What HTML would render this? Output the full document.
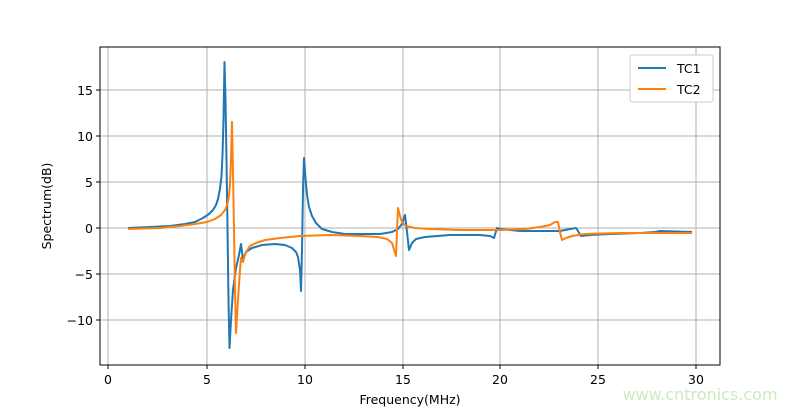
<!DOCTYPE html>
<html><head><meta charset="utf-8"><style>
body{margin:0;background:#fff}
svg text{font-family:"DejaVu Sans","Liberation Sans",sans-serif;font-size:12.5px;fill:#000}
</style></head><body>
<svg width="800" height="409" xmlns="http://www.w3.org/2000/svg">
<rect width="800" height="409" fill="#fff"/>
<g stroke="#b0b0b0" stroke-width="1">
<line x1="108" y1="47" x2="108" y2="365"/><line x1="207" y1="47" x2="207" y2="365"/>
<line x1="305" y1="47" x2="305" y2="365"/><line x1="403" y1="47" x2="403" y2="365"/>
<line x1="500" y1="47" x2="500" y2="365"/><line x1="598" y1="47" x2="598" y2="365"/>
<line x1="696" y1="47" x2="696" y2="365"/>
<line x1="100" y1="90" x2="720" y2="90"/><line x1="100" y1="136" x2="720" y2="136"/>
<line x1="100" y1="182" x2="720" y2="182"/><line x1="100" y1="228" x2="720" y2="228"/>
<line x1="100" y1="274" x2="720" y2="274"/><line x1="100" y1="320" x2="720" y2="320"/>
</g>
<polyline fill="none" stroke="#1f77b4" stroke-width="2" stroke-linejoin="round" points="128,228 150,227 170,226 185,224 195,222 203,218 209,214 213,210 216,205 218,199 220,189 221.5,176 222.5,155 223.5,120 224.5,62 225.5,100 226.5,160 227.5,228 228.5,300 229.5,348 231,320 233,290 236,268 239,255 241,244 243,260 246,252 252,248 262,245 275,244 285,245 292,248 296,252 298,257 300,270 301,291 302,250 303,190 304,158 305.5,178 307,195 309,207 312,216 316,223 322,229 332,232 345,234 360,234 380,234 392,232 398,229 402,224 405,215 407,232 409,250 412,243 416,239 425,237 450,235 480,235 490,236 494,238 497,228 500,229 520,231 560,231 570,229 576,228 578,231 581,236 590,235 610,234 640,233 655,232 660,231 692,232"/>
<polyline fill="none" stroke="#ff7f0e" stroke-width="2" stroke-linejoin="round" points="128,229 160,228 180,226 195,224 207,222 215,219 221,215 225,210 227.5,204 229,196 230,184 231,160 232,122 233.5,200 235,290 236,333 238,300 240,270 241,258 243,262 245,254 250,246 256,243 265,240 280,238 300,236 330,235 360,236 378,237 387,239 392,243 396,256 397,230 398,208 400,216 402,222 406,226 415,228 430,229 460,230 500,230 525,229 540,227 550,225 555,222 558,222 560,232 562,240 566,238 572,236 585,234 620,233 692,233"/>
<rect x="100" y="47" width="620" height="318" fill="none" stroke="#000" stroke-width="1"/>
<g stroke="#000"><line x1="108" y1="365" x2="108" y2="369"/><line x1="207" y1="365" x2="207" y2="369"/><line x1="305" y1="365" x2="305" y2="369"/><line x1="403" y1="365" x2="403" y2="369"/><line x1="500" y1="365" x2="500" y2="369"/><line x1="598" y1="365" x2="598" y2="369"/><line x1="696" y1="365" x2="696" y2="369"/>
<line x1="96" y1="90" x2="100" y2="90"/><line x1="96" y1="136" x2="100" y2="136"/><line x1="96" y1="182" x2="100" y2="182"/><line x1="96" y1="228" x2="100" y2="228"/><line x1="96" y1="274" x2="100" y2="274"/><line x1="96" y1="320" x2="100" y2="320"/></g>
<g text-anchor="middle"><text x="108" y="384">0</text><text x="207" y="384">5</text><text x="305" y="384">10</text><text x="403" y="384">15</text><text x="500" y="384">20</text><text x="598" y="384">25</text><text x="696" y="384">30</text>
<text x="410" y="404">Frequency(MHz)</text></g>
<g text-anchor="end"><text x="93" y="95">15</text><text x="93" y="141">10</text><text x="93" y="187">5</text><text x="93" y="233">0</text><text x="93" y="279">−5</text><text x="93" y="325">−10</text></g>
<text transform="translate(51,206) rotate(-90)" text-anchor="middle">Spectrum(dB)</text>
<rect x="630" y="55" width="83" height="47" fill="#fff" stroke="#ccc" rx="2"/>
<line x1="638" y1="68" x2="666" y2="68" stroke="#1f77b4" stroke-width="2"/><text x="677" y="73">TC1</text>
<line x1="638" y1="89" x2="666" y2="89" stroke="#ff7f0e" stroke-width="2"/><text x="677" y="94">TC2</text>
<text x="700" y="400" text-anchor="middle" style="font-size:16px;fill:#cfe8c0">www.cntronics.com</text>
</svg>
</body></html>
